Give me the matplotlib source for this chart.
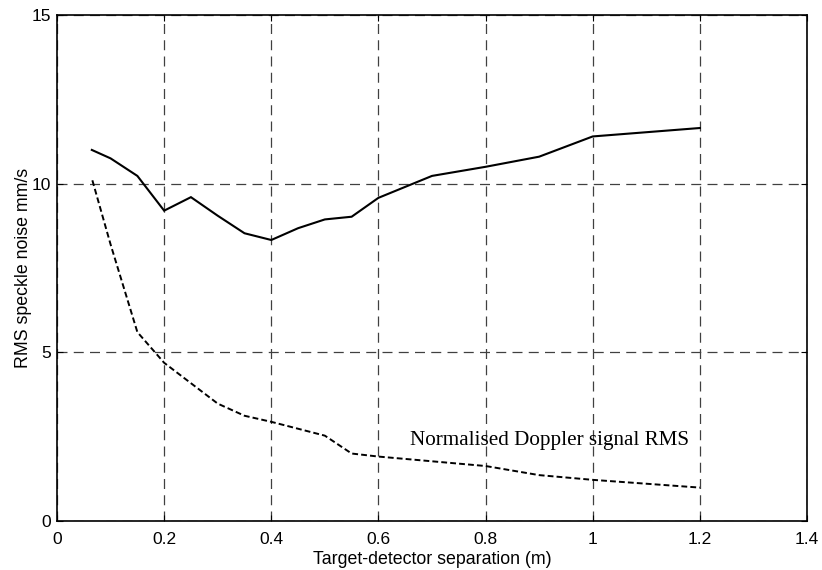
#!/usr/bin/env python3
"""
Speckle noise vs target-detector separation, MATLAB-style line plot.
"""

import matplotlib
matplotlib.use('Agg')
import matplotlib.pyplot as plt

# RMS speckle noise (solid)
noise_x = [0.065, 0.1, 0.15, 0.2, 0.25, 0.3, 0.35, 0.4, 0.45, 0.5, 0.55, 0.6,
           0.7, 0.8, 0.9, 1.0, 1.2]
noise_y = [11.0, 10.75, 10.23, 9.2, 9.6, 9.05, 8.53, 8.33, 8.68, 8.94, 9.02, 9.58,
           10.23, 10.5, 10.8, 11.4, 11.65]

# Normalised Doppler signal RMS (dashed)
doppler_x = [0.066, 0.1, 0.15, 0.2, 0.3, 0.35, 0.4, 0.5, 0.55, 0.6, 0.8, 0.9,
             1.0, 1.2]
doppler_y = [10.1, 8.2, 5.6, 4.69, 3.48, 3.12, 2.94, 2.53, 2.0, 1.91, 1.63, 1.36,
             1.22, 0.99]

x_ticks = [0, 0.2, 0.4, 0.6, 0.8, 1, 1.2, 1.4]
x_tick_labels = ['0', '0.2', '0.4', '0.6', '0.8', '1', '1.2', '1.4']
y_ticks = [0, 5, 10, 15]

plt.rcParams['font.family'] = ['Liberation Sans', 'DejaVu Sans']

fig = plt.figure(figsize=(8.22, 5.70), dpi=100)
ax = fig.add_axes([57 / 822, 1 - 521 / 570, 750 / 822, 506 / 570])

ax.plot(noise_x, noise_y, color='black', linewidth=1.5, solid_joinstyle='miter')
ax.plot(doppler_x, doppler_y, color='black', linewidth=1.4,
        linestyle=(0, (3, 1.6)))

ax.text(0.658, 2.38, 'Normalised Doppler signal RMS', fontsize=15.2,
        family=['Liberation Serif', 'DejaVu Serif'], va='center', ha='left')

ax.set_xlim(0, 1.4)
ax.set_ylim(0, 15)
ax.set_xticks(x_ticks)
ax.set_xticklabels(x_tick_labels)
ax.set_yticks(y_ticks)

# grid under the data and the box
ax.set_axisbelow(True)
ax.grid(True, color='0.25', linestyle=(0, (8, 5)), linewidth=0.9)
ax.tick_params(direction='in', length=4, top=True, right=True,
               labelsize=12.5, pad=8)
ax.tick_params(axis='y', pad=4)
for spine in ax.spines.values():
    spine.set_linewidth(1.2)
    spine.set_color('black')
    spine.set_zorder(5)

ax.set_xlabel('Target-detector separation (m)', fontsize=12.8, labelpad=3)
ax.set_ylabel('RMS speckle noise mm/s', fontsize=12.8, labelpad=0)

fig.savefig('out.png', dpi=100)
